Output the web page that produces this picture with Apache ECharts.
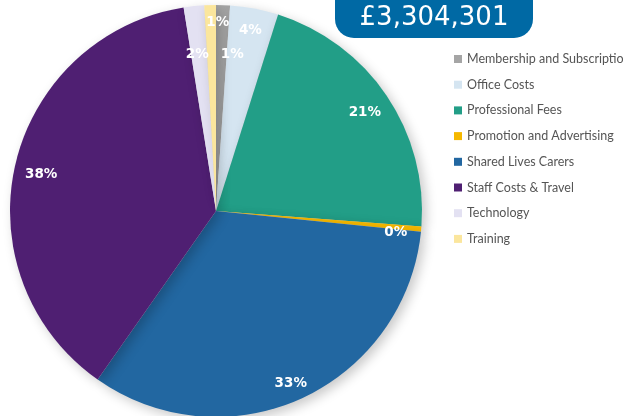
<!DOCTYPE html>
<html>
<head>
<meta charset="utf-8">
<script src="https://cdn.jsdelivr.net/npm/echarts@6/dist/echarts.min.js"></script>
<style>
html,body{margin:0;padding:0;background:#fff;}
#main{width:623px;height:416px;}
</style>
</head>
<body>
<div id="main"></div>
<script>
var totalText = "£3,304,301";
var names = ["Membership and Subscriptions","Office Costs","Professional Fees","Promotion and Advertising","Shared Lives Carers","Staff Costs & Travel","Technology","Training"];
var amounts = [36000,125000,705000,13000,1095000,1247301,53000,30000];
var colors = ["#a5a5a5","#d5e5f1","#229e87","#f5b800","#2267a1","#4f1f72","#e3e1f2","#fbe69d"];

// label nudges (Excel put them off the middle)
var nudge = {0:[10,28],1:[0,1],2:[-4,5],3:[-4,5],4:[-2,5],5:[5,5],6:[1,27],7:[7,-4]};

var pieData = [];
var labelData = [];
for(var i=0;i<names.length;i++){
	pieData.push({name:names[i],value:amounts[i],itemStyle:{color:colors[i]}});
	labelData.push({name:names[i],value:amounts[i]});
}

var myChart = echarts.init(document.getElementById('main'));
var option = {
	animation:false,
	legend:{
		orient:'vertical',
		left:454,
		top:52,
		padding:0,
		icon:'rect',
		itemWidth:8,
		itemHeight:8,
		itemGap:11.7,
		textStyle:{color:'#555',fontFamily:'Lato',fontSize:12.5,lineHeight:14},
		data:names
	},
	graphic:[
		{
			type:'rect',
			shape:{x:335,y:-22,width:198,height:60,r:19},
			style:{fill:'#0069a4'},
			z:10
		},
		{
			type:'text',
			x:434,
			y:18,
			style:{text:totalText,fill:'#fff',font:'26px "DejaVu Sans"',align:'center',verticalAlign:'middle'},
			z:11
		}
	],
	series:[
		{
			name:'main',
			type:'pie',
			center:[216,211],
			radius:206,
			startAngle:90,
			clockwise:true,
			percentPrecision:0,
			label:{show:false},
			labelLine:{show:false},
			itemStyle:{shadowBlur:12,shadowColor:'rgba(0,0,0,0.22)',shadowOffsetX:4,shadowOffsetY:4},
			emphasis:{disabled:true},
			data:pieData
		},
		{
			name:'labels',
			type:'pie',
			center:[216,211],
			radius:[157,206],
			startAngle:90,
			clockwise:true,
			percentPrecision:0,
			silent:true,
			itemStyle:{color:'rgba(0,0,0,0)'},
			label:{
				show:true,
				position:'inside',
				formatter:'{d}%',
				color:'#fff',
				fontFamily:'DejaVu Sans',
				fontWeight:'bold',
				fontSize:13.5
			},
			labelLine:{show:false},
			labelLayout:function(p){
				var n = nudge[p.dataIndex];
				return {dx:n[0],dy:n[1]};
			},
			emphasis:{disabled:true},
			data:labelData
		}
	]
};
myChart.setOption(option);
</script>
</body>
</html>
